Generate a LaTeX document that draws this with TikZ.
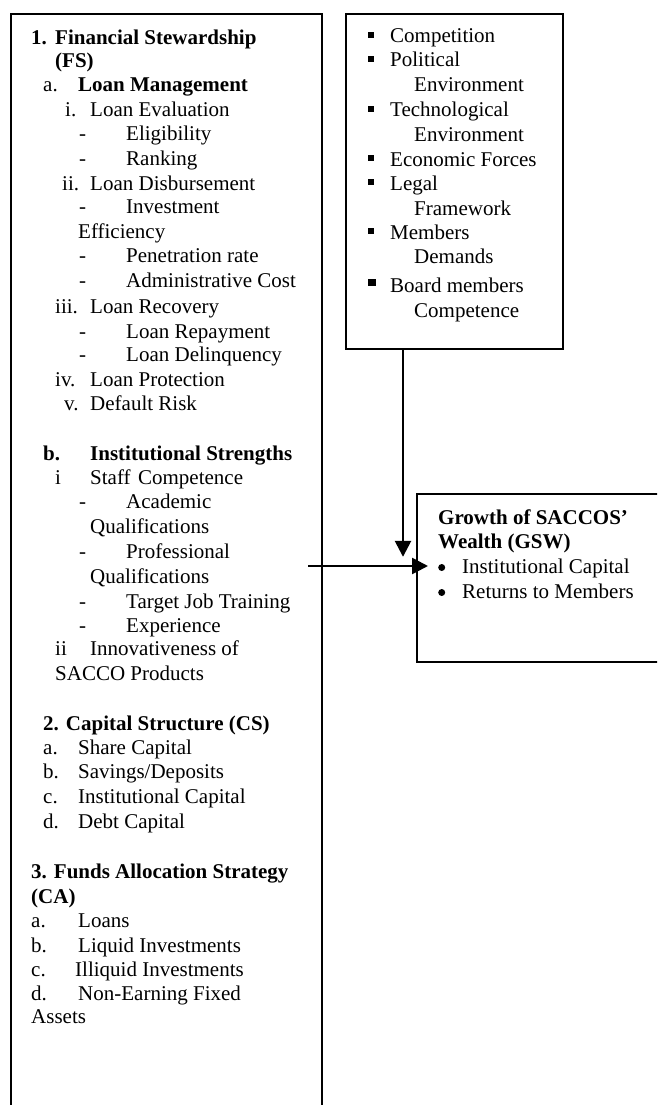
\documentclass[tikz,border=0pt]{standalone}
\usepackage{fontspec}
\setmainfont{Liberation Serif}
\usetikzlibrary{arrows.meta}
\newcommand\lb[2]{\makebox[#1pt][l]{#2}}
\newcommand\sq{\rule[5pt]{6pt}{6pt}}
\newcommand\bsq{\rule[6pt]{7.5pt}{7.5pt}}
\newcommand\rdot{\tikz[baseline=0pt]\fill (3.5pt,5.5pt) circle (3.5pt);}
\begin{document}
\begin{tikzpicture}[x=1pt,y=-1pt,
  box/.style={draw, line width=1.8pt, inner sep=0pt, anchor=north west},
  txt/.style={anchor=base west, inner sep=0pt, font=\fontsize{21}{24.45}\selectfont},
  arr/.style={line width=2.6pt, -{Triangle[length=16pt,width=16pt]}}]
\useasboundingbox (0,0) rectangle (657,1105);
\fill[white] (0,0) rectangle (657,1105);
\clip (0,0) rectangle (657,1105);
% boxes
\node[box, minimum width=311pt, minimum height=1110pt] (fs) at (10,13) {};
\node[box, minimum width=217pt, minimum height=335pt] (ext) at (345,13) {};
\node[box, minimum width=249pt, minimum height=168pt] (gsw) at (416,493) {};
% left box text
\foreach \x/\y/\t [count=\i] in {
 31/45/{\textbf{\lb{24}{1.}Financial Stewardship}},
 55/68/{\textbf{(FS)}},
 43/92/{\lb{35}{a.}\textbf{Loan Management}},
 65/117/{\lb{25}{i.}Loan Evaluation},
 79/140/{\lb{47}{-}Eligibility},
 79/165/{\lb{47}{-}Ranking},
 62/190/{\lb{28}{ii.}Loan Disbursement},
 79/213/{\lb{47}{-}Investment},
 78/238/{Efficiency},
 79/262/{\lb{47}{-}Penetration rate},
 79/287/{\lb{47}{-}Administrative Cost},
 55/313/{\lb{35}{iii.}Loan Recovery},
 79/338/{\lb{47}{-}Loan Repayment},
 79/361/{\lb{47}{-}Loan Delinquency},
 55/386/{\lb{35}{iv.}Loan Protection},
 64/410/{\lb{26}{v.}Default Risk},
 43/460/{\textbf{\lb{47}{b.}Institutional Strengths}},
 55/484/{\lb{35}{i}Staff\hspace{7.5pt}Competence},
 79/508/{\lb{47}{-}Academic},
 90/533/{Qualifications},
 79/558/{\lb{47}{-}Professional},
 90/583/{Qualifications},
 79/608/{\lb{47}{-}Target Job Training},
 79/632/{\lb{47}{-}Experience},
 55/655/{\lb{35}{ii}Innovativeness of},
 55/680/{SACCO Products},
 43/730/{\textbf{2. Capital Structure (CS)}},
 43/754/{\lb{35}{a.}Share Capital},
 43/778/{\lb{35}{b.}Savings/Deposits},
 43/803/{\lb{35}{c.}Institutional Capital},
 43/828/{\lb{35}{d.}Debt Capital},
 31/878/{\textbf{3. Funds Allocation Strategy}},
 31/903/{\textbf{(CA)}},
 31/927/{\lb{47}{a.}Loans},
 31/952/{\lb{47}{b.}Liquid Investments},
 31/976/{\lb{44}{c.}Illiquid Investments},
 31/1000/{\lb{47}{d.}Non-Earning Fixed},
 31/1023/{Assets}}
 {\node[txt] (l\i) at (\x,\y) {\t};}
% right box text
\foreach \x/\y/\t [count=\i] in {
 368/43/{\lb{22}{\sq}Competition},
 368/67/{\lb{22}{\sq}Political},
 414/92/{Environment},
 368/117/{\lb{22}{\sq}Technological},
 414/142/{Environment},
 368/166/{\lb{22}{\sq}Economic Forces},
 368/190/{\lb{22}{\sq}Legal},
 414/215/{Framework},
 368/239/{\lb{22}{\sq}Members},
 414/263/{Demands},
 368/292/{\lb{22}{\bsq}Board members},
 414/317/{Competence}}
 {\node[txt] (r\i) at (\x,\y) {\t};}
% outcome box text
\foreach \x/\y/\t [count=\i] in {
 438/524/{\textbf{Growth of SACCOS’}},
 438/548/{\textbf{Wealth (GSW)}},
 438/573/{\lb{24}{\rdot}Institutional Capital},
 438/598/{\lb{24}{\rdot}Returns to Members}}
 {\node[txt] (g\i) at (\x,\y) {\t};}
% connectors
\draw[arr] ([xshift=58pt]ext.south west) -- ++(0,207);
\coordinate (hs) at (308,566);
\draw[arr] (hs) -- ([xshift=12pt]gsw.west |- hs);
\end{tikzpicture}
\end{document}
